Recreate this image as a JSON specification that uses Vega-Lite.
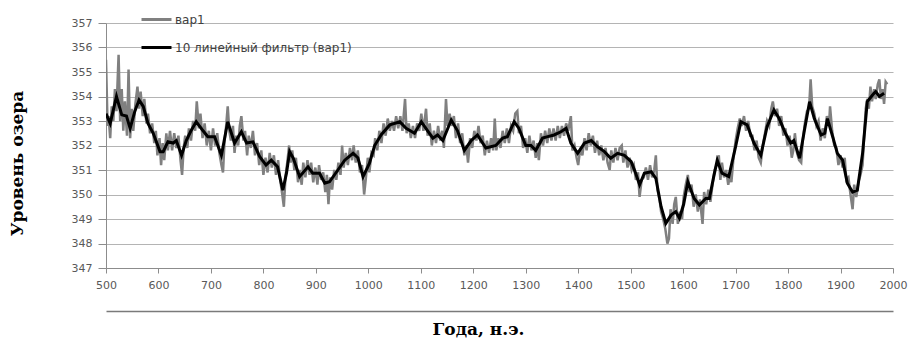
{
  "$schema": "https://vega.github.io/schema/vega-lite/v6.json",
  "width": 787,
  "height": 245,
  "autosize": {"type": "none"},
  "padding": {"left": 106, "top": 23, "right": 22, "bottom": 74},
  "background": "white",
  "datasets": {
    "annual": [
      {"t":500,"v":355.5},{"t":503,"v":352.8},{"t":505,"v":353.2},{"t":508,"v":352.3},{"t":511,"v":353.6},{"t":514,"v":353.0},{"t":517,"v":354.3},{"t":520,"v":353.4},{"t":524,"v":355.7},{"t":527,"v":353.0},{"t":530,"v":354.3},{"t":533,"v":352.6},{"t":536,"v":353.8},{"t":540,"v":352.4},{"t":543,"v":355.1},{"t":546,"v":352.3},{"t":549,"v":353.5},{"t":552,"v":352.6},{"t":556,"v":353.7},{"t":560,"v":354.4},{"t":563,"v":353.5},{"t":566,"v":354.2},{"t":570,"v":353.2},{"t":573,"v":353.9},{"t":577,"v":352.9},{"t":580,"v":353.3},{"t":584,"v":352.5},{"t":588,"v":352.9},{"t":592,"v":352.1},{"t":595,"v":352.6},{"t":598,"v":351.6},
      {"t":602,"v":352.3},{"t":605,"v":351.2},{"t":608,"v":352.1},{"t":611,"v":351.4},{"t":615,"v":352.5},{"t":618,"v":351.8},{"t":622,"v":352.6},{"t":626,"v":351.8},{"t":630,"v":352.5},{"t":634,"v":351.9},{"t":638,"v":352.4},{"t":642,"v":351.4},{"t":645,"v":350.8},{"t":648,"v":351.9},{"t":651,"v":352.4},{"t":655,"v":351.9},{"t":658,"v":352.7},{"t":662,"v":352.2},{"t":666,"v":353.0},{"t":670,"v":352.6},{"t":673,"v":353.8},{"t":677,"v":352.7},{"t":680,"v":353.3},{"t":684,"v":352.3},{"t":688,"v":352.9},{"t":692,"v":352.0},{"t":696,"v":352.6},
      {"t":700,"v":351.8},{"t":704,"v":352.7},{"t":708,"v":352.0},{"t":712,"v":352.5},{"t":716,"v":351.7},{"t":720,"v":351.2},{"t":723,"v":350.9},{"t":726,"v":352.2},{"t":729,"v":352.8},{"t":732,"v":353.6},{"t":735,"v":352.6},{"t":738,"v":352.2},{"t":742,"v":352.8},{"t":745,"v":351.7},{"t":748,"v":352.4},{"t":752,"v":352.0},{"t":755,"v":352.8},{"t":758,"v":353.2},{"t":762,"v":352.2},{"t":765,"v":352.6},{"t":769,"v":351.6},{"t":772,"v":352.4},{"t":776,"v":351.9},{"t":780,"v":352.6},{"t":784,"v":351.6},{"t":788,"v":352.1},{"t":792,"v":351.2},{"t":796,"v":351.8},
      {"t":800,"v":350.8},{"t":804,"v":351.5},{"t":808,"v":350.9},{"t":812,"v":351.7},{"t":816,"v":351.1},{"t":820,"v":351.6},{"t":824,"v":350.8},{"t":828,"v":351.4},{"t":832,"v":350.6},{"t":836,"v":350.0},{"t":839,"v":349.5},{"t":842,"v":350.7},{"t":846,"v":351.4},{"t":849,"v":352.0},{"t":852,"v":351.3},{"t":855,"v":351.8},{"t":859,"v":351.0},{"t":862,"v":351.5},{"t":866,"v":350.5},{"t":869,"v":351.0},{"t":873,"v":350.4},{"t":876,"v":351.3},{"t":880,"v":350.7},{"t":884,"v":351.4},{"t":888,"v":350.8},{"t":891,"v":351.3},{"t":895,"v":350.5},{"t":899,"v":351.1},
      {"t":903,"v":350.4},{"t":906,"v":351.2},{"t":910,"v":350.6},{"t":914,"v":350.9},{"t":918,"v":350.1},{"t":921,"v":350.8},{"t":924,"v":349.6},{"t":927,"v":350.7},{"t":931,"v":350.2},{"t":935,"v":351.0},{"t":939,"v":350.6},{"t":943,"v":351.3},{"t":947,"v":350.8},{"t":950,"v":352.0},{"t":953,"v":351.1},{"t":957,"v":351.7},{"t":961,"v":351.2},{"t":965,"v":351.9},{"t":969,"v":351.4},{"t":972,"v":352.0},{"t":976,"v":351.3},{"t":980,"v":351.8},{"t":984,"v":350.9},{"t":988,"v":351.2},{"t":992,"v":350.0},{"t":995,"v":350.6},{"t":999,"v":351.5},
      {"t":1002,"v":350.9},{"t":1006,"v":351.7},{"t":1010,"v":351.6},{"t":1013,"v":352.3},{"t":1017,"v":351.8},{"t":1021,"v":352.6},{"t":1025,"v":352.1},{"t":1029,"v":352.9},{"t":1033,"v":352.4},{"t":1037,"v":353.1},{"t":1041,"v":352.6},{"t":1045,"v":353.0},{"t":1049,"v":352.6},{"t":1053,"v":353.2},{"t":1057,"v":352.7},{"t":1061,"v":353.2},{"t":1065,"v":352.6},{"t":1070,"v":353.9},{"t":1073,"v":352.5},{"t":1077,"v":352.9},{"t":1081,"v":352.3},{"t":1085,"v":352.8},{"t":1089,"v":352.3},{"t":1093,"v":352.9},{"t":1097,"v":352.6},
      {"t":1101,"v":353.3},{"t":1105,"v":352.6},{"t":1110,"v":353.5},{"t":1113,"v":352.4},{"t":1117,"v":352.9},{"t":1121,"v":352.0},{"t":1125,"v":352.6},{"t":1129,"v":352.1},{"t":1133,"v":352.8},{"t":1137,"v":352.2},{"t":1141,"v":352.6},{"t":1144,"v":351.9},{"t":1148,"v":353.9},{"t":1151,"v":352.8},{"t":1155,"v":353.3},{"t":1159,"v":352.8},{"t":1163,"v":353.2},{"t":1167,"v":352.3},{"t":1171,"v":352.9},{"t":1175,"v":352.1},{"t":1179,"v":352.5},{"t":1183,"v":351.6},{"t":1187,"v":352.0},{"t":1190,"v":351.3},{"t":1194,"v":352.3},{"t":1198,"v":351.9},
      {"t":1202,"v":352.6},{"t":1206,"v":352.2},{"t":1210,"v":352.8},{"t":1214,"v":352.1},{"t":1218,"v":352.4},{"t":1222,"v":351.6},{"t":1226,"v":352.2},{"t":1230,"v":351.7},{"t":1234,"v":352.3},{"t":1238,"v":351.8},{"t":1241,"v":353.1},{"t":1244,"v":351.8},{"t":1248,"v":352.3},{"t":1252,"v":351.9},{"t":1256,"v":352.6},{"t":1260,"v":352.1},{"t":1264,"v":352.7},{"t":1268,"v":352.1},{"t":1272,"v":352.8},{"t":1276,"v":352.6},{"t":1280,"v":353.3},{"t":1284,"v":353.4},{"t":1287,"v":352.5},{"t":1291,"v":352.8},{"t":1295,"v":351.9},{"t":1299,"v":352.3},
      {"t":1303,"v":351.7},{"t":1307,"v":352.4},{"t":1311,"v":351.8},{"t":1315,"v":352.2},{"t":1319,"v":351.5},{"t":1322,"v":352.1},{"t":1325,"v":351.4},{"t":1329,"v":352.5},{"t":1333,"v":352.0},{"t":1337,"v":352.6},{"t":1341,"v":352.1},{"t":1345,"v":352.7},{"t":1349,"v":352.2},{"t":1353,"v":352.7},{"t":1357,"v":352.2},{"t":1361,"v":352.8},{"t":1365,"v":352.3},{"t":1369,"v":352.8},{"t":1373,"v":352.4},{"t":1377,"v":352.9},{"t":1381,"v":352.6},{"t":1386,"v":353.2},{"t":1389,"v":351.8},{"t":1393,"v":352.0},{"t":1397,"v":351.5},
      {"t":1400,"v":351.2},{"t":1404,"v":351.9},{"t":1408,"v":351.6},{"t":1412,"v":352.3},{"t":1416,"v":351.8},{"t":1420,"v":352.5},{"t":1424,"v":352.0},{"t":1428,"v":352.4},{"t":1432,"v":351.7},{"t":1436,"v":352.2},{"t":1440,"v":351.6},{"t":1444,"v":352.0},{"t":1448,"v":351.4},{"t":1452,"v":351.9},{"t":1456,"v":351.3},{"t":1460,"v":351.0},{"t":1463,"v":351.8},{"t":1467,"v":351.3},{"t":1471,"v":351.9},{"t":1475,"v":351.4},{"t":1479,"v":351.9},{"t":1483,"v":352.0},{"t":1486,"v":351.3},{"t":1490,"v":351.8},{"t":1494,"v":351.1},{"t":1498,"v":351.5},
      {"t":1502,"v":351.0},{"t":1506,"v":351.2},{"t":1510,"v":350.6},{"t":1514,"v":350.9},{"t":1517,"v":349.9},{"t":1521,"v":350.6},{"t":1525,"v":350.7},{"t":1529,"v":351.1},{"t":1533,"v":350.6},{"t":1537,"v":351.2},{"t":1541,"v":350.7},{"t":1545,"v":351.0},{"t":1548,"v":351.6},{"t":1551,"v":350.2},{"t":1555,"v":349.8},{"t":1558,"v":349.3},{"t":1562,"v":349.0},{"t":1566,"v":348.6},{"t":1570,"v":348.0},{"t":1573,"v":348.2},{"t":1576,"v":349.4},{"t":1580,"v":348.8},{"t":1583,"v":349.6},{"t":1586,"v":349.9},{"t":1590,"v":348.8},{"t":1594,"v":349.3},{"t":1598,"v":349.0},
      {"t":1601,"v":349.9},{"t":1605,"v":350.4},{"t":1609,"v":350.8},{"t":1612,"v":350.1},{"t":1616,"v":350.4},{"t":1620,"v":349.5},{"t":1624,"v":350.0},{"t":1628,"v":349.3},{"t":1632,"v":349.8},{"t":1635,"v":349.2},{"t":1637,"v":348.8},{"t":1640,"v":350.1},{"t":1644,"v":349.6},{"t":1648,"v":350.2},{"t":1652,"v":349.7},{"t":1656,"v":350.4},{"t":1660,"v":351.0},{"t":1664,"v":351.2},{"t":1668,"v":351.6},{"t":1671,"v":350.6},{"t":1674,"v":351.3},{"t":1678,"v":350.7},{"t":1682,"v":351.0},{"t":1686,"v":350.4},{"t":1690,"v":350.9},{"t":1692,"v":350.5},{"t":1696,"v":351.5},
      {"t":1700,"v":352.2},{"t":1704,"v":352.7},{"t":1708,"v":353.1},{"t":1712,"v":352.8},{"t":1716,"v":353.2},{"t":1720,"v":352.6},{"t":1724,"v":353.0},{"t":1728,"v":352.4},{"t":1732,"v":352.4},{"t":1736,"v":351.8},{"t":1740,"v":352.2},{"t":1744,"v":351.5},{"t":1748,"v":351.3},{"t":1752,"v":352.0},{"t":1756,"v":352.5},{"t":1760,"v":353.0},{"t":1764,"v":352.8},{"t":1768,"v":353.5},{"t":1771,"v":353.8},{"t":1775,"v":353.2},{"t":1779,"v":353.5},{"t":1783,"v":352.8},{"t":1787,"v":353.2},{"t":1791,"v":352.4},{"t":1795,"v":352.7},{"t":1799,"v":352.0},
      {"t":1803,"v":352.4},{"t":1807,"v":351.5},{"t":1810,"v":351.8},{"t":1813,"v":352.5},{"t":1817,"v":351.7},{"t":1821,"v":351.4},{"t":1825,"v":351.3},{"t":1828,"v":352.2},{"t":1832,"v":352.9},{"t":1836,"v":353.4},{"t":1840,"v":353.5},{"t":1843,"v":354.7},{"t":1846,"v":353.6},{"t":1850,"v":353.3},{"t":1854,"v":352.8},{"t":1858,"v":353.0},{"t":1862,"v":352.2},{"t":1866,"v":352.7},{"t":1870,"v":352.3},{"t":1874,"v":353.2},{"t":1878,"v":352.8},{"t":1880,"v":353.6},{"t":1884,"v":352.6},{"t":1888,"v":352.0},{"t":1892,"v":351.9},{"t":1896,"v":351.2},
      {"t":1900,"v":351.6},{"t":1904,"v":351.1},{"t":1908,"v":351.5},{"t":1911,"v":350.6},{"t":1915,"v":350.7},{"t":1919,"v":350.0},{"t":1923,"v":349.4},{"t":1926,"v":350.4},{"t":1930,"v":349.9},{"t":1934,"v":350.5},{"t":1938,"v":350.8},{"t":1942,"v":351.2},{"t":1945,"v":352.4},{"t":1948,"v":353.5},{"t":1951,"v":353.9},{"t":1954,"v":353.5},{"t":1957,"v":354.4},{"t":1960,"v":353.8},{"t":1964,"v":354.3},{"t":1967,"v":353.9},{"t":1971,"v":354.5},{"t":1974,"v":354.7},{"t":1977,"v":353.9},{"t":1980,"v":354.3},{"t":1983,"v":353.7},{"t":1986,"v":354.6},{"t":1989,"v":354.5}
    ],
    "filtered": [
      {"t":500,"v":353.3},{"t":508,"v":352.9},{"t":520,"v":354.0},{"t":530,"v":353.25},{"t":539,"v":353.2},{"t":546,"v":352.7},{"t":555,"v":353.4},{"t":563,"v":353.86},{"t":571,"v":353.6},{"t":580,"v":352.9},{"t":590,"v":352.5},
      {"t":603,"v":351.75},{"t":609,"v":351.75},{"t":618,"v":352.15},{"t":628,"v":352.1},{"t":634,"v":352.2},{"t":644,"v":351.6},{"t":653,"v":352.2},{"t":662,"v":352.6},{"t":672,"v":352.97},{"t":685,"v":352.6},{"t":694,"v":352.36},
      {"t":707,"v":352.36},{"t":720,"v":351.6},{"t":732,"v":352.97},{"t":745,"v":352.1},{"t":758,"v":352.56},{"t":768,"v":352.1},{"t":780,"v":352.15},{"t":793,"v":351.54},
      {"t":805,"v":351.2},{"t":815,"v":351.4},{"t":827,"v":351.13},{"t":837,"v":350.18},{"t":844,"v":350.87},{"t":850,"v":351.75},{"t":857,"v":351.48},{"t":869,"v":350.73},{"t":885,"v":351.13},{"t":894,"v":350.87},
      {"t":907,"v":350.87},{"t":917,"v":350.46},{"t":926,"v":350.52},{"t":942,"v":351.0},{"t":955,"v":351.4},{"t":971,"v":351.68},{"t":980,"v":351.5},{"t":990,"v":350.73},
      {"t":1002,"v":351.27},{"t":1012,"v":352.0},{"t":1025,"v":352.45},{"t":1041,"v":352.84},{"t":1060,"v":352.97},{"t":1072,"v":352.7},{"t":1088,"v":352.5},
      {"t":1101,"v":352.97},{"t":1113,"v":352.6},{"t":1123,"v":352.3},{"t":1132,"v":352.43},{"t":1142,"v":352.2},{"t":1158,"v":353.04},{"t":1170,"v":352.6},{"t":1183,"v":351.8},{"t":1196,"v":352.2},
      {"t":1208,"v":352.43},{"t":1224,"v":351.9},{"t":1243,"v":352.0},{"t":1256,"v":352.3},{"t":1265,"v":352.36},{"t":1278,"v":352.97},{"t":1287,"v":352.7},
      {"t":1300,"v":352.0},{"t":1310,"v":352.0},{"t":1319,"v":351.8},{"t":1332,"v":352.3},{"t":1342,"v":352.36},{"t":1354,"v":352.43},{"t":1367,"v":352.56},{"t":1377,"v":352.7},{"t":1386,"v":352.1},{"t":1399,"v":351.68},
      {"t":1412,"v":352.1},{"t":1425,"v":352.2},{"t":1437,"v":351.95},{"t":1450,"v":351.75},{"t":1462,"v":351.48},{"t":1475,"v":351.68},{"t":1488,"v":351.6},
      {"t":1501,"v":351.34},{"t":1509,"v":350.9},{"t":1517,"v":350.4},{"t":1526,"v":350.87},{"t":1539,"v":350.93},{"t":1548,"v":350.66},{"t":1558,"v":349.5},{"t":1567,"v":348.82},{"t":1577,"v":349.16},{"t":1586,"v":349.3},{"t":1593,"v":349.03},
      {"t":1601,"v":349.6},{"t":1609,"v":350.52},{"t":1621,"v":349.84},{"t":1631,"v":349.57},{"t":1643,"v":349.84},{"t":1650,"v":349.84},{"t":1658,"v":350.7},{"t":1665,"v":351.4},{"t":1674,"v":350.87},{"t":1687,"v":350.73},
      {"t":1700,"v":351.95},{"t":1710,"v":352.97},{"t":1722,"v":352.84},{"t":1735,"v":352.1},{"t":1748,"v":351.6},{"t":1760,"v":352.77},{"t":1773,"v":353.45},{"t":1783,"v":353.1},{"t":1795,"v":352.5},
      {"t":1805,"v":352.1},{"t":1811,"v":352.2},{"t":1822,"v":351.48},{"t":1831,"v":352.6},{"t":1841,"v":353.79},{"t":1850,"v":353.1},{"t":1863,"v":352.43},{"t":1870,"v":352.5},{"t":1875,"v":353.1},{"t":1885,"v":352.36},{"t":1894,"v":351.68},
      {"t":1904,"v":351.4},{"t":1913,"v":350.46},{"t":1923,"v":350.1},{"t":1932,"v":350.18},{"t":1942,"v":351.68},{"t":1951,"v":353.79},{"t":1961,"v":354.06},{"t":1967,"v":354.2},{"t":1974,"v":354.0},{"t":1983,"v":354.13}
    ]
  },
  "layer": [
    {
      "data": {"name": "annual"},
      "mark": {"type": "line", "strokeWidth": 2.5, "clip": true},
      "encoding": {
        "x": {
          "field": "t", "type": "quantitative",
          "scale": {"domain": [500, 2000], "nice": false, "zero": false},
          "axis": {
            "values": [500,600,700,800,900,1000,1100,1200,1300,1400,1500,1600,1700,1800,1900,2000],
            "grid": false, "tickSize": 5, "labelPadding": 6, "title": null, "format": "d",
            "labelFlush": false, "labelOverlap": false
          }
        },
        "y": {
          "field": "v", "type": "quantitative",
          "scale": {"domain": [347, 357], "nice": false, "zero": false},
          "axis": {
            "values": [347,348,349,350,351,352,353,354,355,356,357],
            "grid": true, "tickSize": 8, "labelPadding": 6, "format": "d",
            "labelOverlap": false, "labelFlush": false,
            "title": "Уровень озера", "titlePadding": 45, "titleY": 140
          }
        },
        "color": {
          "datum": "вар1",
          "scale": {"domain": ["вар1", "10 линейный фильтр (вар1)"], "range": ["#808080", "#000000"]},
          "legend": {
            "orient": "none", "legendX": 34, "legendY": -20, "direction": "vertical",
            "title": null, "symbolType": "stroke", "symbolSize": 900, "symbolStrokeWidth": 3,
            "rowPadding": 5, "labelOffset": 2, "labelLimit": 400, "labelFont": "DejaVu Sans",
            "labelFontSize": 12, "labelColor": "#404040"
          }
        }
      }
    },
    {
      "data": {"name": "filtered"},
      "mark": {"type": "line", "strokeWidth": 3, "clip": true},
      "encoding": {
        "x": {
          "field": "t", "type": "quantitative",
          "axis": {
            "orient": "bottom", "offset": 43, "ticks": false, "labels": false, "grid": false,
            "domainColor": "#7a7a7a", "domainWidth": 1.5,
            "title": "Года, н.э.", "titlePadding": 10, "titleX": 372
          }
        },
        "y": {
          "field": "v", "type": "quantitative",
          "axis": {
            "values": [347,348,349,350,351,352,353,354,355,356,357],
            "grid": true, "tickSize": 8, "labelPadding": 6, "format": "d",
            "labelOverlap": false, "labelFlush": false,
            "title": "Уровень озера", "titlePadding": 45, "titleY": 140
          }
        },
        "color": {"datum": "10 линейный фильтр (вар1)"}
      }
    }
  ],
  "resolve": {"axis": {"x": "independent"}},
  "config": {
    "view": {"stroke": null},
    "axis": {
      "labelFont": "DejaVu Sans", "labelFontSize": 11, "labelColor": "#595959",
      "domainColor": "#8c8c8c", "tickColor": "#8c8c8c", "gridColor": "#b4b4b4", "gridWidth": 1.2,
      "titleFont": "DejaVu Serif", "titleFontWeight": "bold", "titleFontSize": 17, "titleColor": "#000000"
    }
  }
}
